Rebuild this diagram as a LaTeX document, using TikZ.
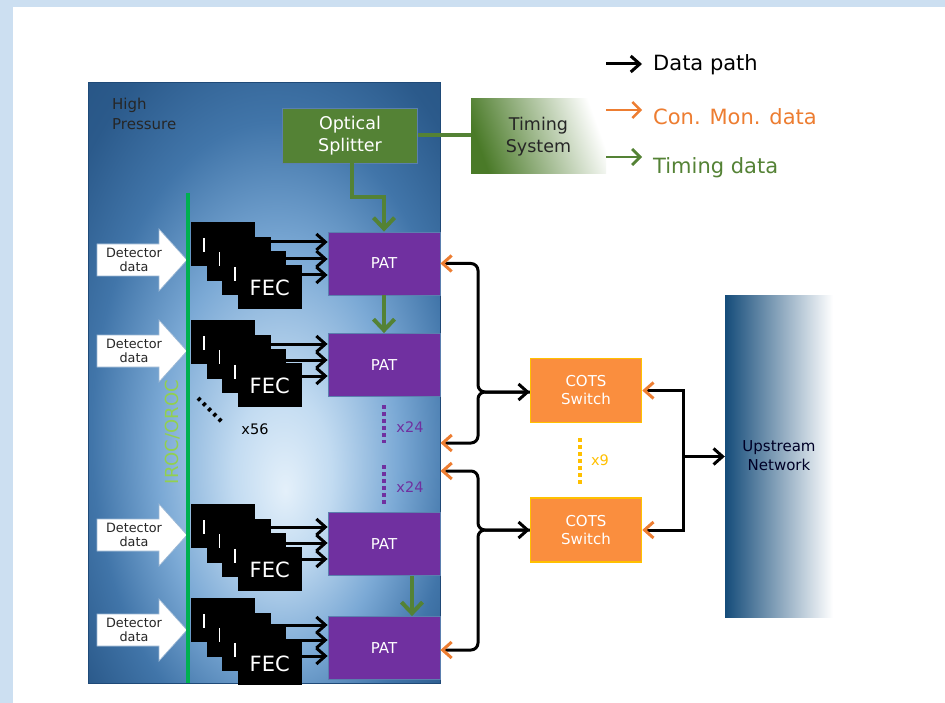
\documentclass[tikz,border=0pt]{standalone}
\usepackage{fontspec}
\setmainfont{DejaVu Sans}
\usetikzlibrary{arrows.meta,calc}
\definecolor{frameblue}{HTML}{CCDFF1}
\definecolor{hpa}{HTML}{E4F0FA}
\definecolor{hpb}{HTML}{C2DBF1}
\definecolor{hpc}{HTML}{7BA9D5}
\definecolor{hpd}{HTML}{4175A9}
\definecolor{hpe}{HTML}{2B5A8B}
\definecolor{hpf}{HTML}{1F4A78}
\pgfdeclareradialshading{hpshade}{\pgfpoint{3bp}{-9bp}}{color(0bp)=(hpa); color(7bp)=(hpb); color(17bp)=(hpc); color(26bp)=(hpd); color(34bp)=(hpe); color(50bp)=(hpf)}
\definecolor{tgreen}{HTML}{548235}
\definecolor{tdark}{HTML}{4A7A28}
\definecolor{patp}{HTML}{7030A0}
\definecolor{patb}{HTML}{5B7FAF}
\definecolor{cotsf}{HTML}{FA8E3E}
\definecolor{cotsb}{HTML}{FFC000}
\definecolor{conor}{HTML}{ED7D31}
\definecolor{barg}{HTML}{00B050}
\definecolor{irocg}{HTML}{92D050}
\definecolor{upblue}{HTML}{154C7A}
\definecolor{dettxt}{HTML}{262626}
\definecolor{detline}{HTML}{9BB7D4}
\tikzset{
  btip/.tip={Straight Barb[length=9pt,width=16pt,line width=3pt]},
  otip/.tip={Straight Barb[length=9pt,width=16pt,line width=3pt,conor]},
  gtip/.tip={Straight Barb[length=11pt,width=21pt,line width=4pt]},
  hpbox/.style={shade, shading=hpshade, draw=hpf, line width=0.5pt, inner sep=0pt, anchor=north west},
  fecbox/.style={fill=black, minimum width=64pt, minimum height=44pt, inner sep=0pt, anchor=north west},
  fecmark/.style={draw=white, line width=1.2pt},
  fectext/.style={text=white, font=\fontsize{21}{24}\selectfont},
  patbox/.style={fill=patp, draw=patb, line width=0.8pt, minimum width=112pt, minimum height=63pt, text=white, font=\fontsize{15}{18}\selectfont, inner sep=0pt},
  cotsbox/.style={fill=cotsf, draw=cotsb, line width=1.5pt, minimum width=111pt, minimum height=64pt, text=white, align=center, font=\fontsize{15}{18}\selectfont, inner sep=0pt},
  blk/.style={draw=black, line width=3pt},
  grn/.style={draw=tgreen, line width=4pt},
  detshape/.style={fill=white, draw=detline, line width=0.7pt},
  dettext/.style={text=dettxt, align=center, font=\fontsize{12.8}{14.5}\selectfont, inner sep=0pt},
  legtext/.style={anchor=west, font=\fontsize{21}{24}\selectfont, inner sep=0pt},
  purpdots/.style={draw=patp, line width=4.5pt, dash pattern=on 4pt off 3pt},
  yeldots/.style={draw=cotsb, line width=4.5pt, dash pattern=on 4pt off 3pt},
  cnt/.style={font=\fontsize{14.5}{17}\selectfont, inner sep=0pt},
}
\newcommand\fecstack[5]{%
  \foreach \k/\n in {0/a,1/b,2/c,3/d}{\node[fecbox] (#1\n) at ({191+15.5*\k},{#2+14.4*\k}) {};}
  \foreach \n in {a,b,c}{\draw[fecmark] ($(#1\n.north west)+(13,16)$) -- ++(0,14);}
  \node[fectext] (#1t) at (#1d.center) {FEC};
  \draw[blk,-btip] (#1b.east |- 0,#3) -- (#5.west |- 0,#3);
  \draw[blk,-btip] (#1c.east |- 0,#4) -- (#5.west |- 0,#4);
  \draw[blk,-btip] (#1d.east |- 0,{#4+16}) -- (#5.west |- 0,{#4+16});
}
\newcommand\detarrow[2]{%
  \draw[detshape] (97,#2-16) -- (159,#2-16) -- (159,#2-31) -- (187,#2) -- (159,#2+31) -- (159,#2+16) -- (97,#2+16) -- cycle;
  \node[dettext] (#1) at (134,#2) {Detector\\data};
}
\begin{document}
\begin{tikzpicture}[x=1pt,y=-1pt]
\useasboundingbox (0,0) rectangle (945,703);
\fill[white] (0,0) rectangle (945,703);
\fill[frameblue] (0,0) rectangle (945,7);
\fill[frameblue] (0,0) rectangle (13,703);

% high pressure volume
\node[hpbox, minimum width=352pt, minimum height=601pt] (hp) at (88,82) {};
\node[anchor=north west, align=left, font=\fontsize{15}{20}\selectfont, text=black!85, inner sep=0pt] (hptext) at (112,98) {High\\Pressure};

% detector data arrows
\detarrow{d1}{260}
\detarrow{d2}{351}
\detarrow{d3}{535}
\detarrow{d4}{630}

% IROC/OROC bar
\coordinate (bartop) at (188,193);
\coordinate (barbot) at (188,683);
\draw[barg, line width=4pt] (bartop) -- (barbot);
\node[rotate=90, text=irocg, font=\fontsize{18}{20}\selectfont, inner sep=0pt] (iroc) at (173,432) {IROC/OROC};

% PATs
\node[patbox] (p1) at (384,263.5) {PAT};
\node[patbox] (p2) at (384,365) {PAT};
\node[patbox] (p3) at (384,544) {PAT};
\node[patbox] (p4) at (384,648) {PAT};

% FEC stacks
\fecstack{s1}{222}{242}{259}{p1}
\fecstack{s2}{320}{344}{360}{p2}
\fecstack{s3}{504}{527}{543}{p3}
\fecstack{s4}{598}{625}{640}{p4}

% multiplicity marks
\coordinate (dk1) at (198,398);
\coordinate (dk2) at (222,422);
\draw[black, line width=4pt, dash pattern=on 3.2pt off 4.2pt] (dk1) -- (dk2);
\node[cnt] (x56) at (255,429) {x56};
\coordinate (pd1) at (384,405);
\coordinate (pd2) at (384,443);
\coordinate (pd3) at (384,465);
\coordinate (pd4) at (384,504);
\draw[purpdots] (pd1) -- (pd2);
\draw[purpdots] (pd3) -- (pd4);
\node[cnt, text=patp] (x24a) at (410,427) {x24};
\node[cnt, text=patp] (x24b) at (410,487) {x24};

% optical splitter and timing system
\node[fill=tgreen, draw=patb, line width=0.6pt, minimum width=135pt, minimum height=55pt, text=white, align=center, font=\fontsize{17.5}{22}\selectfont, inner sep=0pt] (os) at (350,135.5) {Optical\\Splitter};
\node[left color=tdark, right color=white, shading angle=110, minimum width=135pt, minimum height=75pt, text=black!85, align=center, font=\fontsize{17.5}{22}\selectfont, inner sep=0pt] (ts) at (538.5,136.5) {Timing\\System};
\draw[grn] (os.east) -- (ts.west |- os.east);
\coordinate (osbend) at (352,197);
\draw[grn,-gtip] (os.south -| osbend) -- (osbend) -| (p1.north);
\draw[grn,-gtip] (p1.south) -- (p2.north);
\coordinate (g34) at (412,0);
\draw[grn,-gtip] (p3.south -| g34) -- (p4.north -| g34);

% COTS switches
\node[cotsbox] (c1) at (586,390.5) {COTS\\Switch};
\node[cotsbox] (c2) at (586,530) {COTS\\Switch};
\coordinate (yd1) at (580,438);
\coordinate (yd2) at (580,486);
\draw[yeldots] (yd1) -- (yd2);
\node[cnt, text=cotsb] (x9) at (600,460) {x9};

% braces from PATs to switches
\draw[blk, rounded corners=7pt, {otip}-{btip}] (p1.east) -- (478,263.5) -- (478,392) -- (c1.west |- 0,392);
\draw[blk, rounded corners=7pt, {otip}-] (hp.east |- 0,443) -- (478,443) -- (478,392) -- (c1.west |- 0,392);
\draw[blk, rounded corners=7pt, {otip}-{btip}] (hp.east |- 0,471) -- (478,471) -- (478,530) -- (c2.west |- 0,530);
\draw[blk, rounded corners=7pt, {otip}-] (p4.east |- 0,650) -- (478,650) -- (478,530) -- (c2.west |- 0,530);

% upstream network
\node[left color=upblue, right color=white, minimum width=108pt, minimum height=321pt, inner sep=0pt] (up) at (779,456.5) {};
\node[align=center, text=black!85!blue, font=\fontsize{15}{19}\selectfont, inner sep=0pt] (uptext) at (779,456) {Upstream\\Network};
\coordinate (uj) at (683,456.5);
\draw[blk, {otip}-] (c1.east) -| (uj);
\draw[blk, {otip}-] (c2.east) -| (uj);
\draw[blk, -btip] (uj) -- (up.west);

% legend
\coordinate (la1) at (606,64);
\coordinate (la2) at (642,64);
\coordinate (lb1) at (606,110);
\coordinate (lb2) at (642,110);
\coordinate (lc1) at (606,157);
\coordinate (lc2) at (642,157);
\draw[blk, -btip] (la1) -- (la2);
\draw[draw=conor, line width=2.4pt, -{Straight Barb[length=8pt,width=16pt,line width=2.4pt]}] (lb1) -- (lb2);
\draw[draw=tgreen, line width=2.8pt, -{Straight Barb[length=8pt,width=16pt,line width=2.8pt]}] (lc1) -- (lc2);
\node[legtext, text=black] (lt1) at (653,65) {Data path};
\node[legtext, text=conor] (lt2) at (653,117) {Con. Mon. data};
\node[legtext, text=tgreen] (lt3) at (653,168) {Timing data};
\end{tikzpicture}
\end{document}
